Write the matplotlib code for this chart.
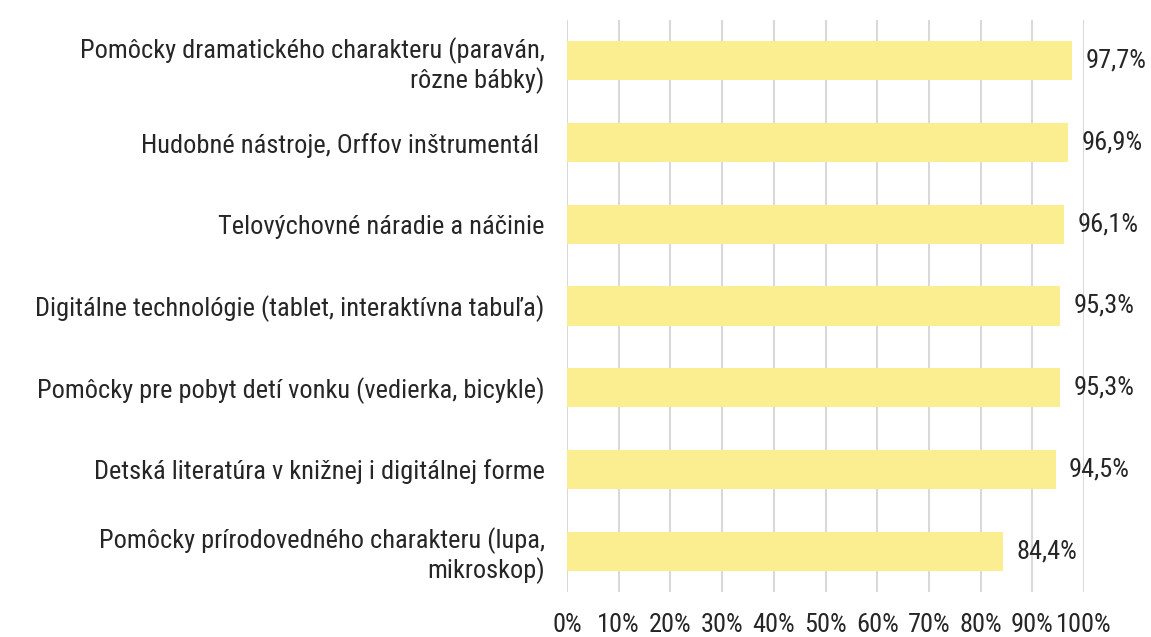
import matplotlib
matplotlib.use("Agg")
import matplotlib.pyplot as plt
from matplotlib import font_manager

categories = [
    "Pomôcky dramatického charakteru (paraván,\nrôzne bábky)",
    "Hudobné nástroje, Orffov inštrumentál ",
    "Telovýchovné náradie a náčinie",
    "Digitálne technológie (tablet, interaktívna tabuľa)",
    "Pomôcky pre pobyt detí vonku (vedierka, bicykle)",
    "Detská literatúra v knižnej i digitálnej forme",
    "Pomôcky prírodovedného charakteru (lupa,\nmikroskop)",
]
values = [97.7, 96.9, 96.1, 95.3, 95.3, 94.5, 84.4]
ticks = list(range(0, 101, 10))

names = {f.name for f in font_manager.fontManager.ttflist}
family = "Roboto Condensed" if "Roboto Condensed" in names else "Roboto"
plt.rcParams["font.family"] = [family, "DejaVu Sans"]
text_color = "#262626"
fs = 19

fig = plt.figure(figsize=(11.51, 6.37), dpi=100)
ax = fig.add_axes([567 / 1151, 45 / 637, 517 / 1151, 572 / 637])

y = list(range(len(categories)))
ax.barh(y, values, height=0.48, color="#FAEE91", zorder=2)
for yi, v in zip(y, values):
    ax.text(v + 2.6, yi, f"{v:.1f}%".replace(".", ","), va="center", ha="left",
            fontsize=fs, color=text_color)

ax.set_xlim(0, 100)
ax.set_ylim(len(categories) - 0.5, -0.5)
ax.set_xticks(ticks)
ax.set_xticklabels([f"{t}%" for t in ticks], fontsize=fs, color=text_color)
ax.set_yticks(y)
ax.set_yticklabels(categories, fontsize=fs, color=text_color, linespacing=1.15)
ax.tick_params(axis="x", length=0, pad=15)
ax.tick_params(axis="y", length=0, pad=16)
ax.grid(axis="x", color="#D9D9D9", linewidth=1.5, zorder=0)
for s in ax.spines.values():
    s.set_visible(False)

fig.savefig("out.png", dpi=100)
